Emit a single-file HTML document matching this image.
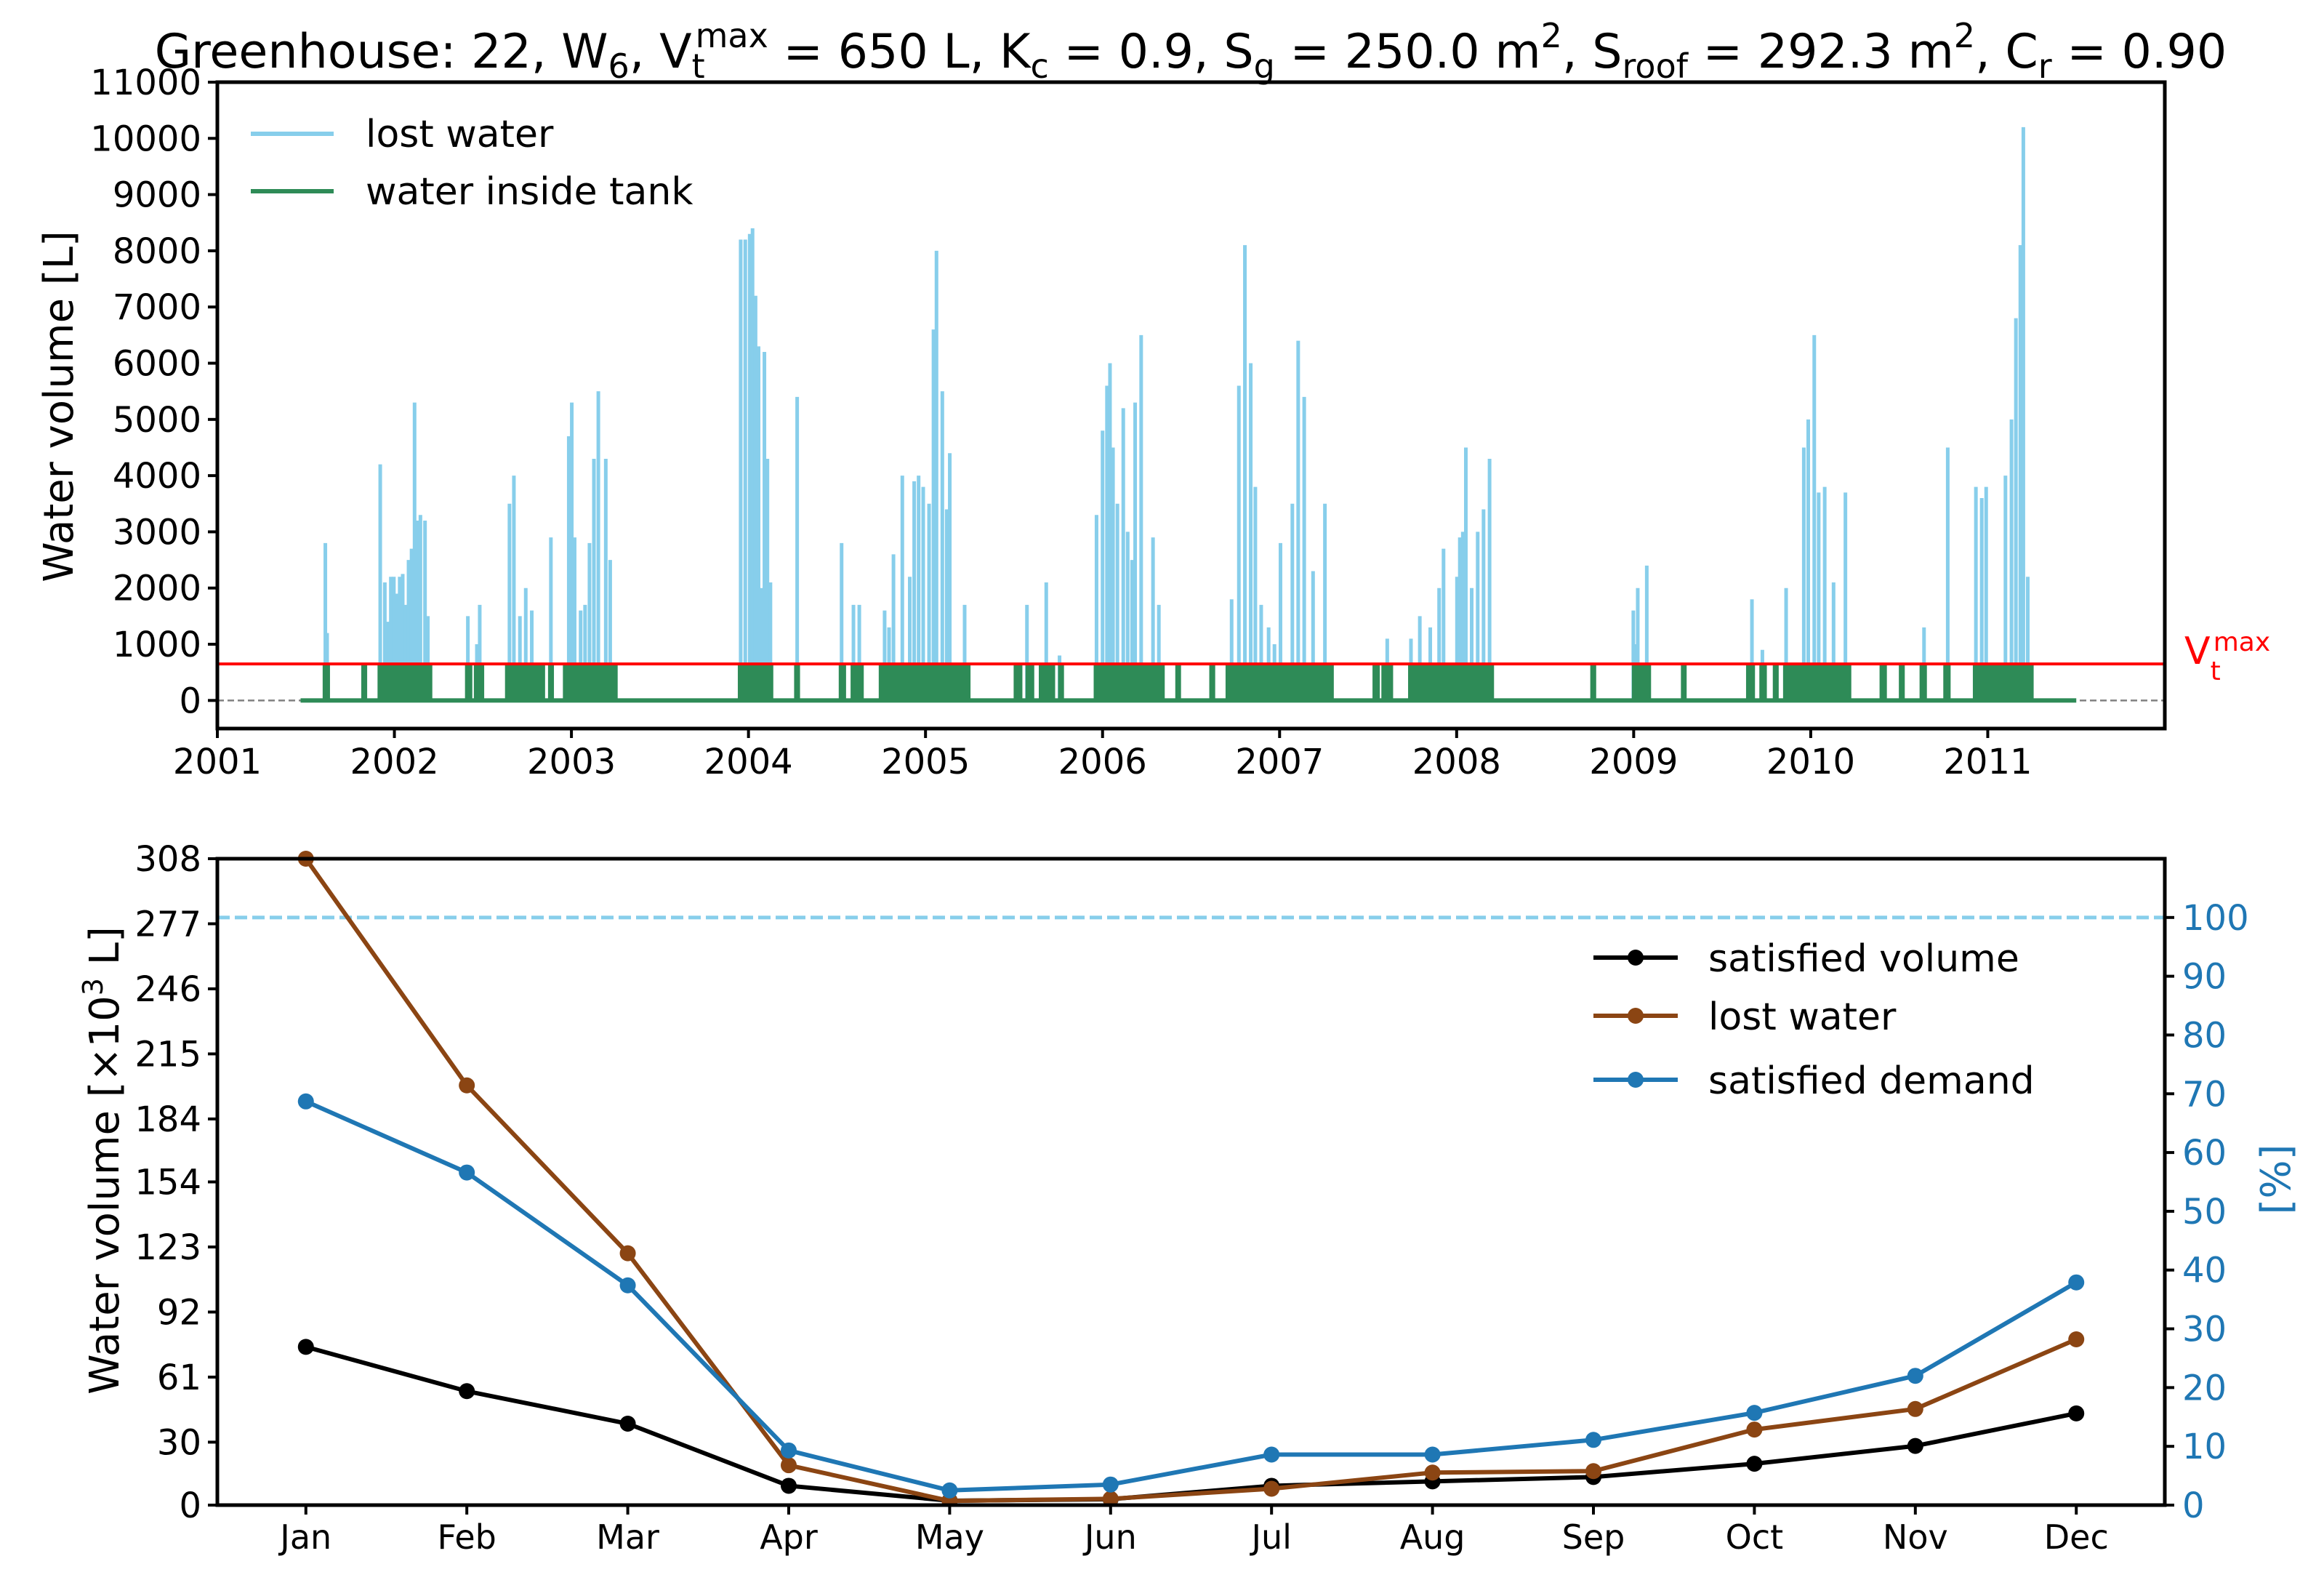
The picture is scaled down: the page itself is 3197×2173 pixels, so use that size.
<!DOCTYPE html>
<html><head><meta charset="utf-8"><style>
html,body{margin:0;padding:0;background:#fff;}
svg{display:block;font-family:"DejaVu Sans","Liberation Sans",sans-serif;}
</style></head><body>
<svg id="fig" width="3197" height="2173" viewBox="0 0 3197 2173" xmlns="http://www.w3.org/2000/svg">
<rect width="3197" height="2173" fill="#fff"/>
<text x="1638" y="93" font-size="65" text-anchor="middle">Greenhouse: 22, W<tspan font-size="46" dy="14">6</tspan><tspan dy="-14">, V</tspan><tspan font-size="46" dy="14">t</tspan><tspan font-size="46" dx="-13" dy="-42">max</tspan><tspan dy="28"> = 650 L, K</tspan><tspan font-size="46" dy="14">c</tspan><tspan dy="-14"> = 0.9, S</tspan><tspan font-size="46" dy="14">g</tspan><tspan dy="-14"> = 250.0 m</tspan><tspan font-size="46" dy="-28">2</tspan><tspan dy="28">, S</tspan><tspan font-size="46" dy="14">roof</tspan><tspan dy="-14"> = 292.3 m</tspan><tspan font-size="46" dy="-28">2</tspan><tspan dy="28">, C</tspan><tspan font-size="46" dy="14">r</tspan><tspan dy="-14"> = 0.90</tspan></text>
<g id="topchart"></g>
<g id="bottomchart"></g>
</svg>
<script>
// ---------- top chart data ----------
const lostYears = [2001.61,2001.62,2001.92,2001.946,2001.963,2001.98,2001.997,2002.013,2002.03,2002.047,2002.064,2002.08,2002.097,2002.114,2002.131,2002.147,2002.173,2002.189,
2002.415,2002.466,2002.482,2002.65,2002.675,2002.709,2002.742,2002.776,2002.884,
2002.985,2003.002,2003.018,2003.052,2003.077,2003.102,2003.127,2003.152,2003.194,2003.219,
2003.956,2003.982,2004.007,2004.023,2004.04,2004.057,2004.074,2004.09,2004.107,2004.124,2004.275,
2004.526,2004.593,2004.626,2004.769,2004.794,2004.819,2004.869,2004.911,2004.936,2004.961,2004.987,2005.02,2005.045,2005.062,2005.095,2005.12,2005.137,2005.221,
2005.573,2005.682,2005.757,
2005.966,2006.0,2006.025,2006.042,2006.059,2006.084,2006.117,2006.142,2006.167,2006.184,2006.218,2006.285,2006.318,
2006.729,2006.77,2006.804,2006.837,2006.863,2006.896,2006.938,2006.971,2007.005,2007.072,2007.105,2007.139,2007.189,2007.256,
2007.608,2007.742,2007.792,2007.851,2007.901,2007.926,2008.002,2008.018,2008.035,2008.052,2008.085,2008.119,2008.152,2008.186,
2008.998,2009.006,2009.023,2009.074,
2009.668,2009.727,2009.861,2009.961,2009.986,2010.02,2010.045,2010.079,2010.129,2010.196,
2010.64,2010.774,2010.933,2010.966,2010.991,2011.1,2011.134,2011.159,2011.184,2011.201,2011.226];
const lostValues = [2800,1200,4200,2100,1400,2200,2200,1900,2200,2250,1700,2500,2700,5300,3200,3300,3200,1500,
1500,1000,1700,3500,4000,1500,2000,1600,2900,
4700,5300,2900,1600,1700,2800,4300,5500,4300,2500,
8200,8200,8300,8400,7200,6300,2000,6200,4300,2100,5400,
2800,1700,1700,1600,1300,2600,4000,2200,3900,4000,3800,3500,6600,8000,5500,3400,4400,1700,
1700,2100,800,
3300,4800,5600,6000,4500,3500,5200,3000,2500,5300,6500,2900,1700,
1800,5600,8100,6000,3800,1700,1300,1000,2800,3500,6400,5400,2300,3500,
1100,1100,1500,1300,2000,2700,2200,2900,3000,4500,2000,3000,3400,4300,
1600,1000,2000,2400,
1800,900,2000,4500,5000,6500,3700,3800,2100,3700,
1300,4500,3800,3600,3800,4000,5000,6800,8100,10200,2200];
const tankStart = [2001.603,2001.821,2001.913,2002.407,2002.457,2002.633,2002.876,2002.96,2003.948,2004.266,2004.518,2004.585,2004.744,2005.506,2005.573,2005.648,2005.757,2005.958,2006.419,2006.611,2006.703,2007.533,2007.583,2007.734,2008.763,2008.998,2009.275,2009.643,2009.718,2009.794,2009.852,2010.397,2010.506,2010.623,2010.757,2010.924];
const tankEnd   = [2001.628,2001.838,2002.206,2002.432,2002.499,2002.843,2002.893,2003.253,2004.132,2004.283,2004.543,2004.643,2005.246,2005.539,2005.606,2005.724,2005.774,2006.343,2006.435,2006.628,2007.298,2007.558,2007.633,2008.203,2008.78,2009.09,2009.291,2009.677,2009.744,2009.811,2010.221,2010.422,2010.523,2010.648,2010.782,2011.251];
const tankLevel = [650,650,650,650,650,650,650,650,650,650,650,650,650,650,650,650,650,650,650,650,650,650,650,650,650,650,650,650,650,650,650,650,650,650,650,650];
const seriesRange = [2001.47, 2011.50];
const vmax = 650;
const topYTicks = [0,1000,2000,3000,4000,5000,6000,7000,8000,9000,10000,11000];
const topXTicks = [2001,2002,2003,2004,2005,2006,2007,2008,2009,2010,2011];

// ---------- bottom chart data ----------
const months = ["Jan","Feb","Mar","Apr","May","Jun","Jul","Aug","Sep","Oct","Nov","Dec"];
const satisfiedVolume = [75.4,54.3,38.8,9.2,2.1,2.8,9.2,11.3,13.4,19.7,28.2,43.7];
const lostWaterMonthly = [308,200,120,19,2,3,7.8,15.5,16.2,36,45.8,79];
const satisfiedDemand = [68.7,56.6,37.4,9.3,2.5,3.5,8.6,8.6,11.1,15.7,22,37.9];
const leftTicks = [0,30,61,92,123,154,184,215,246,277,308];
const rightTicks = [0,10,20,30,40,50,60,70,80,90,100];

const NS="http://www.w3.org/2000/svg";
function mk(parent,tag,attrs,text){const e=document.createElementNS(NS,tag);for(const k in attrs)e.setAttribute(k,attrs[k]);if(text!==undefined)e.textContent=text;parent.appendChild(e);return e;}

// ---------- top chart ----------
const T={l:299,r:2978,t:113,b:1002};
const tx=v=>T.l+(v-2001)/11*(T.r-T.l);
const ty=v=>T.t+(11000-v)/11500*(T.b-T.t);
const topG=document.getElementById('topchart');
let e;
e=mk(topG,'line',{x1:T.l,x2:T.r,y1:ty(0),y2:ty(0),stroke:'#808080','stroke-width':2.5,'stroke-dasharray':'9,5'});


const lostG=mk(topG,'g',{stroke:'#87ceeb','stroke-width':5});


for(let i=0;i<lostYears.length;i++){
  e=mk(lostG,'line',{x1:tx(lostYears[i]),x2:tx(lostYears[i]),y1:ty(0),y2:ty(lostValues[i])});
  
  
}
const tankG=mk(topG,'g',{fill:'#2e8b57'});


e=mk(tankG,'rect',{x:tx(seriesRange[0]),width:tx(seriesRange[1])-tx(seriesRange[0]),y:ty(0)-3,height:6});


for(let i=0;i<tankStart.length;i++){
  const x1=tx(tankStart[i]),x2=tx(tankEnd[i]);
  e=mk(tankG,'rect',{x:x1-2,width:Math.max(x2-x1,0)+4,y:ty(tankLevel[i]),height:ty(0)-ty(tankLevel[i])});
  
  
}
e=mk(topG,'line',{x1:T.l,x2:T.r,y1:ty(vmax),y2:ty(vmax),stroke:'#ff0000','stroke-width':4});


e=mk(topG,'rect',{x:T.l,y:T.t,width:T.r-T.l,height:T.b-T.t,fill:'none',stroke:'#000','stroke-width':5});


for(const v of topYTicks){
  e=mk(topG,'line',{x1:T.l-13,x2:T.l,y1:ty(v),y2:ty(v),stroke:'#000','stroke-width':4});
  
  
  e=mk(topG,'text',{x:T.l-22,y:ty(v)+17,'font-size':48,'text-anchor':'end'},String(v));
  
  
}
for(const v of topXTicks){
  e=mk(topG,'line',{x1:tx(v),x2:tx(v),y1:T.b,y2:T.b+13,stroke:'#000','stroke-width':4});
  
  
  e=mk(topG,'text',{x:tx(v),y:T.b+62,'font-size':48,'text-anchor':'middle'},String(v));
  
  
}
e=mk(topG,'text',{x:0,y:0,'font-size':56,'text-anchor':'middle',transform:`translate(100,559) rotate(-90)`},'Water volume [L]');


e=mk(topG,'text',{x:3005,y:913,'font-size':52,fill:'#ff0000'});


e.innerHTML='V<tspan font-size="36" dy="22">t</tspan><tspan font-size="36" dx="-10" dy="-40">max</tspan>';
// top legend
const tl=mk(topG,'g',{});


e=mk(tl,'line',{x1:345,x2:459,y1:184,y2:184,stroke:'#87ceeb','stroke-width':6});


e=mk(tl,'text',{x:503,y:202,'font-size':52},'lost water');


e=mk(tl,'line',{x1:345,x2:459,y1:263,y2:263,stroke:'#2e8b57','stroke-width':6});


e=mk(tl,'text',{x:503,y:281,'font-size':52},'water inside tank');



// ---------- bottom chart ----------
const B={l:299,r:2978,t:1181,b:2070};
const bx=i=>B.l+(i+1-0.45)/12.1*(B.r-B.l);
const by=v=>B.b-v/308*(B.b-B.t);
const byr=v=>B.b-v/110*(B.b-B.t);
const botG=document.getElementById('bottomchart');
e=mk(botG,'line',{x1:B.l,x2:B.r,y1:byr(100),y2:byr(100),stroke:'#87ceeb','stroke-width':5,'stroke-dasharray':'17,7'});


const clip=mk(botG,'clipPath',{id:'bclip'});mk(clip,'rect',{x:B.l,y:B.t-12,width:B.r-B.l,height:B.b-B.t+12});
function series(vals,yf,color,name){
  const g=mk(botG,'g',{'clip-path':'url(#bclip)'});
  
  
  const pts=vals.map((v,i)=>bx(i)+','+yf(v)).join(' ');
  mk(g,'polyline',{points:pts,fill:'none',stroke:color,'stroke-width':6,'stroke-linejoin':'round'});
  vals.forEach((v,i)=>{
    const c=mk(g,'circle',{cx:bx(i),cy:yf(v),r:11,fill:color});
    
    
  });
}
series(satisfiedVolume,by,'#000000','satisfied-volume-series');
series(lostWaterMonthly,by,'#8b4513','lost-water-monthly-series');
series(satisfiedDemand,byr,'#1f77b4','satisfied-demand-series');
e=mk(botG,'rect',{x:B.l,y:B.t,width:B.r-B.l,height:B.b-B.t,fill:'none',stroke:'#000','stroke-width':5});


for(const v of leftTicks){
  e=mk(botG,'line',{x1:B.l-13,x2:B.l,y1:by(v),y2:by(v),stroke:'#000','stroke-width':4});
  
  
  e=mk(botG,'text',{x:B.l-22,y:by(v)+17,'font-size':48,'text-anchor':'end'},String(v));
  
  
}
for(const v of rightTicks){
  e=mk(botG,'line',{x1:B.r,x2:B.r+13,y1:byr(v),y2:byr(v),stroke:'#000','stroke-width':4});
  
  
  e=mk(botG,'text',{x:B.r+24,y:byr(v)+17,'font-size':48,fill:'#1f77b4'},String(v));
  
  
}
months.forEach((m,i)=>{
  e=mk(botG,'line',{x1:bx(i),x2:bx(i),y1:B.b,y2:B.b+13,stroke:'#000','stroke-width':4});
  
  
  e=mk(botG,'text',{x:bx(i),y:B.b+60,'font-size':46,'text-anchor':'middle'},m);
  
  
});
e=mk(botG,'text',{x:0,y:0,'font-size':56,'text-anchor':'middle',transform:`translate(163,1596) rotate(-90)`});


e.innerHTML='Water volume [×10<tspan font-size="38" dy="-22">3</tspan><tspan dy="22"> L]</tspan>';
e=mk(botG,'text',{x:0,y:0,'font-size':56,'text-anchor':'middle',fill:'#1f77b4',transform:`translate(3150,1622) rotate(-90)`},'[%]');


// bottom legend
const bl=mk(botG,'g',{});


const legItems=[['satisfied volume','#000000',1317],['lost water','#8b4513',1397],['satisfied demand','#1f77b4',1485]];
legItems.forEach(([lab,col,y])=>{
  e=mk(bl,'line',{x1:2192,x2:2308,y1:y,y2:y,stroke:col,'stroke-width':6});
  
  
  e=mk(bl,'circle',{cx:2250,cy:y,r:11,fill:col});
  
  
  e=mk(bl,'text',{x:2350,y:y+19,'font-size':52},lab);
  
  
});
</script>
</body></html>
